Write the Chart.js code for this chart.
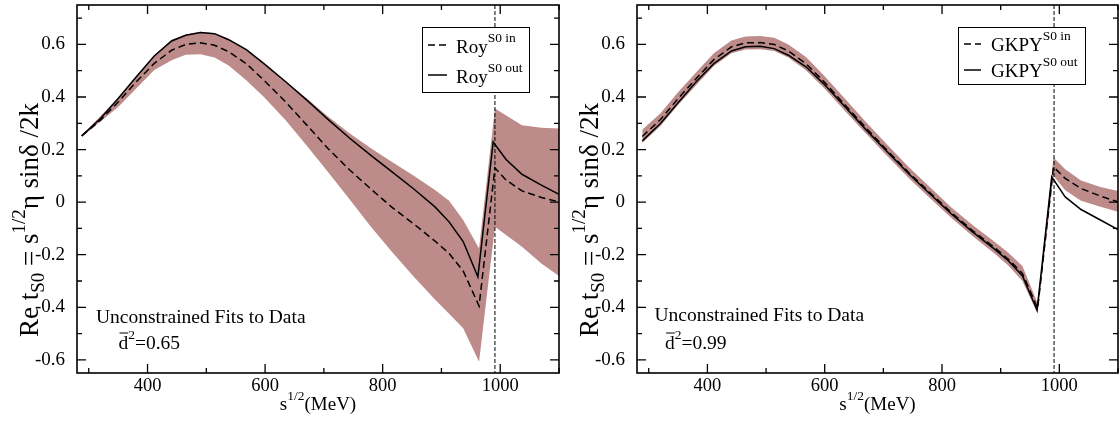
<!DOCTYPE html>
<html>
<head>
<meta charset="utf-8">
<script src="https://cdn.jsdelivr.net/npm/chart.js@4.4.0/dist/chart.umd.min.js"></script>
<style>
  html, body { margin: 0; padding: 0; background: #fff; }
  #wrap { display: flex; width: 1119px; height: 425px; }
  canvas { display: block; }
</style>
</head>
<body>
<div id="wrap">
  <canvas id="royChart" width="560" height="425"></canvas>
  <canvas id="gkpyChart" width="559" height="425"></canvas>
</div>
<script>
// axis ticks (MeV and Re t)
var xTicks = [400, 600, 800, 1000];
var xMinorTicks = [300, 500, 700, 900, 1100];
var yTicks = [-0.6, -0.4, -0.2, 0, 0.2, 0.4, 0.6];
var yMinorTicks = [-0.5, -0.3, -0.1, 0.1, 0.3, 0.5, 0.7];
var kkThreshold = 991;

// left panel: Roy
var royInX  = [288, 320, 350, 381, 411, 441, 465, 490, 514, 538, 568, 598, 635, 671, 707, 744, 780, 816, 853, 889, 913, 937, 964, 991, 1010, 1037, 1070, 1100];
var royInY  = [0.252, 0.312, 0.381, 0.458, 0.527, 0.578, 0.600, 0.606, 0.597, 0.572, 0.527, 0.464, 0.381, 0.293, 0.204, 0.122, 0.050, -0.020, -0.083, -0.148, -0.195, -0.262, -0.395, 0.130, 0.084, 0.043, 0.018, 0.001];
var royOutX = [288, 320, 350, 381, 411, 441, 465, 490, 514, 538, 568, 598, 635, 671, 707, 744, 780, 816, 853, 889, 913, 937, 962, 988, 1010, 1037, 1070, 1100];
var royOutY = [0.252, 0.318, 0.394, 0.477, 0.555, 0.613, 0.635, 0.645, 0.641, 0.618, 0.580, 0.527, 0.458, 0.388, 0.315, 0.243, 0.178, 0.115, 0.050, -0.018, -0.075, -0.150, -0.284, 0.229, 0.162, 0.106, 0.065, 0.030];
var royBandX  = [288, 350, 411, 441, 465, 490, 514, 538, 568, 598, 635, 671, 707, 744, 780, 816, 853, 889, 913, 937, 964, 991, 1037, 1070, 1100];
var royBandHi = [0.254, 0.397, 0.558, 0.618, 0.638, 0.648, 0.643, 0.622, 0.583, 0.530, 0.460, 0.394, 0.326, 0.261, 0.205, 0.153, 0.100, 0.046, 0.005, -0.068, -0.176, 0.356, 0.293, 0.283, 0.280];
var royBandLo = [0.248, 0.362, 0.502, 0.540, 0.561, 0.563, 0.550, 0.520, 0.464, 0.400, 0.312, 0.215, 0.115, 0.010, -0.094, -0.190, -0.284, -0.370, -0.425, -0.480, -0.607, -0.094, -0.170, -0.233, -0.281];

// right panel: GKPY
var gkpyInX  = [289, 320, 350, 381, 411, 441, 465, 490, 514, 538, 568, 598, 635, 671, 707, 744, 780, 816, 853, 889, 913, 937, 963, 990, 1010, 1037, 1070, 1100];
var gkpyInY  = [0.250, 0.314, 0.394, 0.470, 0.542, 0.591, 0.606, 0.607, 0.600, 0.575, 0.527, 0.460, 0.369, 0.281, 0.196, 0.111, 0.035, -0.040, -0.110, -0.172, -0.217, -0.271, -0.404, 0.134, 0.090, 0.052, 0.023, 0.001];
var gkpyOutX = [289, 320, 350, 381, 411, 441, 465, 490, 514, 538, 568, 598, 635, 671, 707, 744, 780, 816, 853, 889, 913, 937, 962, 987, 1010, 1037, 1070, 1100];
var gkpyOutY = [0.233, 0.299, 0.378, 0.458, 0.527, 0.575, 0.591, 0.593, 0.584, 0.559, 0.515, 0.451, 0.362, 0.274, 0.191, 0.106, 0.030, -0.045, -0.115, -0.178, -0.223, -0.280, -0.411, 0.096, 0.020, -0.028, -0.068, -0.104];
var gkpyBandX  = [289, 320, 350, 381, 411, 441, 465, 490, 514, 538, 568, 598, 635, 671, 707, 744, 780, 816, 853, 889, 913, 937, 963, 990, 1010, 1037, 1070, 1100];
var gkpyBandHi = [0.275, 0.338, 0.418, 0.494, 0.566, 0.615, 0.630, 0.632, 0.625, 0.600, 0.552, 0.484, 0.392, 0.303, 0.217, 0.132, 0.056, -0.020, -0.089, -0.150, -0.193, -0.243, -0.385, 0.170, 0.125, 0.082, 0.058, 0.042];
var gkpyBandLo = [0.225, 0.290, 0.370, 0.446, 0.518, 0.566, 0.581, 0.582, 0.575, 0.550, 0.502, 0.436, 0.346, 0.259, 0.175, 0.090, 0.014, -0.060, -0.131, -0.194, -0.241, -0.300, -0.425, 0.100, 0.045, 0.005, -0.018, -0.037];

var bandColor = '#bc8b8a';
var serif = "'Liberation Serif', 'Times New Roman', serif";

function pts(xs, ys) {
    return xs.map(function(x, i) { return {x: x, y: ys[i]}; });
}

// draw a run of text pieces (sub/superscripts) one after another
function drawRich(ctx, parts, x, y, align) {
    var w = 0;
    parts.forEach(function(p) {
        ctx.font = p.size + 'px ' + serif;
        w += ctx.measureText(p.text).width;
    });
    var cx = align === 'center' ? x - w / 2 : x;
    parts.forEach(function(p) {
        ctx.font = p.size + 'px ' + serif;
        ctx.fillText(p.text, cx, y + (p.dy || 0));
        cx += ctx.measureText(p.text).width;
    });
}

function makeChart(canvasId, s, panel) {
    var deco = {
        id: 'deco',
        afterDatasetsDraw: function(chart) {
            var ctx = chart.ctx, a = chart.chartArea;
            var xs = chart.scales.x, ys = chart.scales.y;
            ctx.save();
            ctx.strokeStyle = '#000';
            ctx.fillStyle = '#000';

            // K Kbar threshold
            ctx.lineWidth = 1;
            ctx.setLineDash([4, 2]);
            var tx = xs.getPixelForValue(kkThreshold);
            ctx.beginPath();
            ctx.moveTo(tx, a.top);
            ctx.lineTo(tx, a.bottom);
            ctx.stroke();
            ctx.setLineDash([]);

            // inward ticks on all four sides
            ctx.lineWidth = 1.3;
            ctx.beginPath();
            function xt(v, len) {
                var p = xs.getPixelForValue(v);
                ctx.moveTo(p, a.bottom); ctx.lineTo(p, a.bottom - len);
                ctx.moveTo(p, a.top); ctx.lineTo(p, a.top + len);
            }
            function yt(v, len) {
                var p = ys.getPixelForValue(v);
                ctx.moveTo(a.left, p); ctx.lineTo(a.left + len, p);
                ctx.moveTo(a.right, p); ctx.lineTo(a.right - len, p);
            }
            xTicks.forEach(function(v) { xt(v, 9); });
            xMinorTicks.forEach(function(v) { xt(v, 5); });
            yTicks.forEach(function(v) { yt(v, 9); });
            yMinorTicks.forEach(function(v) { yt(v, 5); });
            ctx.stroke();

            ctx.lineWidth = 1.6;
            ctx.strokeRect(a.left, a.top, a.right - a.left, a.bottom - a.top);

            // legend box
            var L = panel.legend;
            ctx.fillStyle = '#fff';
            ctx.fillRect(L.box[0], L.box[1], L.box[2] - L.box[0], L.box[3] - L.box[1]);
            ctx.lineWidth = 1;
            ctx.strokeRect(L.box[0], L.box[1], L.box[2] - L.box[0], L.box[3] - L.box[1]);
            ctx.fillStyle = '#000';
            L.rows.forEach(function(r, i) {
                var ds = chart.data.datasets[i];
                ctx.lineWidth = 1.5;
                ctx.setLineDash(ds.borderDash || []);
                ctx.beginPath();
                ctx.moveTo(L.sample[0], r.y);
                ctx.lineTo(L.sample[1], r.y);
                ctx.stroke();
                ctx.setLineDash([]);
                drawRich(ctx, [
                    {text: panel.name, size: 19},
                    {text: r.sup, size: 13.5, dy: -11}
                ], L.textX, r.base, 'left');
            });

            // annotation
            drawRich(ctx, [{text: 'Unconstrained Fits to Data', size: 19.5}], panel.note[0], panel.note[1], 'left');
            ctx.font = '19.5px ' + serif;
            var dw = ctx.measureText('d').width;
            drawRich(ctx, [
                {text: 'd', size: 19.5},
                {text: '2', size: 13.5, dy: -10},
                {text: '=' + panel.d2, size: 19.5}
            ], panel.dpos[0], panel.dpos[1], 'left');
            ctx.lineWidth = 1;
            ctx.beginPath();
            ctx.moveTo(panel.dpos[0] + 1, panel.dpos[1] - 15.5);
            ctx.lineTo(panel.dpos[0] + dw, panel.dpos[1] - 15.5);
            ctx.stroke();

            // axis titles
            var cx = (a.left + a.right) / 2;
            drawRich(ctx, [
                {text: 's', size: 19},
                {text: '1/2', size: 13.5, dy: -10},
                {text: '(MeV)', size: 19}
            ], cx, 410, 'center');

            ctx.translate(38, 220);
            ctx.rotate(-Math.PI / 2);
            drawRich(ctx, [
                {text: 'Re t', size: 27},
                {text: 'S0', size: 19, dy: 6},
                {text: ' = s', size: 27},
                {text: '1/2', size: 19, dy: -13},
                {text: '\u03b7 sin\u03b4 /2k', size: 27}
            ], 0, 0, 'center');
            ctx.restore();
        }
    };

    var ctx = document.getElementById(canvasId).getContext('2d');
    return new Chart(ctx, {
        type: 'line',
        data: {
            datasets: [{
                label: panel.name + ' S0 in',
                data: pts(s.inX, s.inY),
                borderColor: '#000', borderWidth: 1.5, borderDash: [7, 4],
                pointRadius: 0, tension: 0, fill: false
            }, {
                label: panel.name + ' S0 out',
                data: pts(s.outX, s.outY),
                borderColor: '#000', borderWidth: 1.5,
                pointRadius: 0, tension: 0, fill: false
            }, {
                label: 'band upper',
                data: pts(s.bandX, s.bandHi),
                borderColor: 'rgba(0,0,0,0)', borderWidth: 0, backgroundColor: bandColor,
                pointRadius: 0, tension: 0, fill: '+1'
            }, {
                label: 'band lower',
                data: pts(s.bandX, s.bandLo),
                borderColor: 'rgba(0,0,0,0)', borderWidth: 0,
                pointRadius: 0, tension: 0, fill: false
            }]
        },
        options: {
            responsive: false,
            animation: false,
            layout: { padding: { top: 5, right: 1, left: 0, bottom: 0 } },
            plugins: { legend: { display: false }, tooltip: { enabled: false } },
            scales: {
                x: {
                    type: 'linear', min: 280, max: 1100,
                    grid: { display: false }, border: { display: false },
                    afterBuildTicks: function(sc) { sc.ticks = xTicks.map(function(v) { return {value: v}; }); },
                    afterFit: function(sc) { sc.height = 52; sc.paddingLeft = 0; sc.paddingRight = 0; },
                    ticks: {
                        color: '#000', padding: -6, maxRotation: 0, autoSkip: false,
                        font: { family: serif, size: 18.5 },
                        callback: function(v) { return String(v); }
                    }
                },
                y: {
                    type: 'linear', min: -0.65, max: 0.75,
                    grid: { display: false }, border: { display: false },
                    afterBuildTicks: function(sc) { sc.ticks = yTicks.map(function(v) { return {value: v}; }); },
                    afterFit: function(sc) { sc.width = 77; sc.paddingTop = 0; sc.paddingBottom = 0; },
                    ticks: {
                        color: '#000', padding: 4,
                        font: { family: serif, size: 19 },
                        callback: function(v) { return String(Math.round(v * 10) / 10); }
                    }
                }
            }
        },
        plugins: [deco]
    });
}

document.addEventListener('DOMContentLoaded', function() {
    makeChart('royChart', {
        inX: royInX, inY: royInY, outX: royOutX, outY: royOutY,
        bandX: royBandX, bandHi: royBandHi, bandLo: royBandLo
    }, {
        name: 'Roy', d2: '0.65',
        note: [96, 322.5], dpos: [118.5, 348.5],
        legend: {
            box: [422.5, 27.5, 529.5, 92.5], sample: [428, 447], textX: 456,
            rows: [{y: 45, base: 52.5, sup: 'S0 in'}, {y: 75, base: 82.5, sup: 'S0 out'}]
        }
    });

    makeChart('gkpyChart', {
        inX: gkpyInX, inY: gkpyInY, outX: gkpyOutX, outY: gkpyOutY,
        bandX: gkpyBandX, bandHi: gkpyBandHi, bandLo: gkpyBandLo
    }, {
        name: 'GKPY', d2: '0.99',
        note: [94.5, 321], dpos: [105, 348.5],
        legend: {
            box: [398.5, 27.5, 525.5, 84.5], sample: [404, 421], textX: 431,
            rows: [{y: 44, base: 51, sup: 'S0 in'}, {y: 70, base: 77, sup: 'S0 out'}]
        }
    });
});
</script>
</body>
</html>
